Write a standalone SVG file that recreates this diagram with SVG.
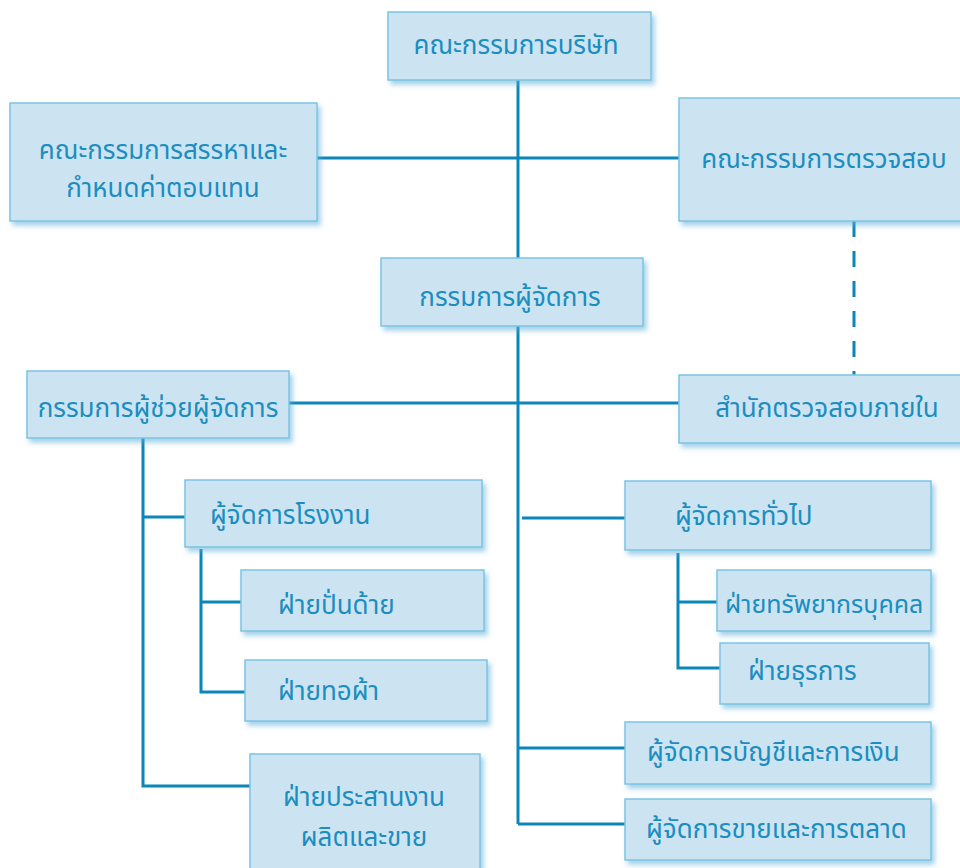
<svg xmlns="http://www.w3.org/2000/svg" width="960" height="868" viewBox="0 0 960 868">
<defs>
<filter id="sh" x="-10%" y="-10%" width="130%" height="140%">
<feDropShadow dx="3" dy="4" stdDeviation="2.5" flood-color="#5aaed6" flood-opacity="0.55"/>
</filter>
<style>
.box{fill:#cce4f2;stroke:#7cc3e3;stroke-width:1.5;filter:url(#sh)}
.t{font-family:"Noto Sans Thai","Noto Sans","DejaVu Sans",sans-serif;font-size:26px;fill:#1b8dbf}
.c{text-anchor:middle}
.ln{stroke:#0a86b8;stroke-width:3;fill:none}
</style>
</defs>
<rect width="960" height="868" fill="#ffffff"/>
<g id="connectors">
<line class="ln" x1="518" y1="80" x2="518" y2="258"/>
<line class="ln" x1="317" y1="158" x2="679" y2="158"/>
<line class="ln" x1="854" y1="221" x2="854" y2="375" stroke-dasharray="16,14"/>
<line class="ln" x1="518" y1="326" x2="518" y2="824"/>
<line class="ln" x1="289" y1="403" x2="679" y2="403"/>
<line class="ln" x1="522" y1="518" x2="625" y2="518"/>
<line class="ln" x1="518" y1="748" x2="625" y2="748"/>
<polyline class="ln" points="518,824 625,824"/>
<polyline class="ln" points="143,438 143,786 250,786"/>
<line class="ln" x1="143" y1="517" x2="185" y2="517"/>
<polyline class="ln" points="201,549 201,692 245,692"/>
<line class="ln" x1="201" y1="602" x2="241" y2="602"/>
<polyline class="ln" points="678,553 678,668 720,668"/>
<line class="ln" x1="678" y1="602" x2="717" y2="602"/>
</g>
<g id="board"><rect class="box" x="388" y="12" width="263" height="68"/><text class="t c" x="516" y="54">คณะกรรมการบริษัท</text></g>
<g id="nomination"><rect class="box" x="10" y="103" width="307" height="118"/><text class="t c" x="163" y="159">คณะกรรมการสรรหาและ</text><text class="t c" x="163" y="197">กำหนดค่าตอบแทน</text></g>
<g id="audit"><rect class="box" x="679" y="98" width="290" height="123"/><text class="t c" x="824" y="168">คณะกรรมการตรวจสอบ</text></g>
<g id="md"><rect class="box" x="381" y="258" width="262" height="68"/><text class="t c" x="510" y="306">กรรมการผู้จัดการ</text></g>
<g id="amd"><rect class="box" x="27" y="371" width="262" height="67"/><text class="t c" x="158" y="417">กรรมการผู้ช่วยผู้จัดการ</text></g>
<g id="internal-audit"><rect class="box" x="679" y="375" width="290" height="68"/><text class="t c" x="827" y="417">สำนักตรวจสอบภายใน</text></g>
<g id="factory"><rect class="box" x="185" y="480" width="297" height="67"/><text class="t" x="210" y="524">ผู้จัดการโรงงาน</text></g>
<g id="spinning"><rect class="box" x="241" y="570" width="243" height="61"/><text class="t" x="278" y="614">ฝ่ายปั่นด้าย</text></g>
<g id="weaving"><rect class="box" x="245" y="660" width="242" height="61"/><text class="t" x="278" y="700">ฝ่ายทอผ้า</text></g>
<g id="coordination"><rect class="box" x="250" y="754" width="230" height="130"/><text class="t c" x="364" y="806">ฝ่ายประสานงาน</text><text class="t c" x="364" y="846">ผลิตและขาย</text></g>
<g id="gm"><rect class="box" x="625" y="481" width="306" height="69"/><text class="t" x="675" y="525">ผู้จัดการทั่วไป</text></g>
<g id="hr"><rect class="box" x="717" y="570" width="214" height="61"/><text class="t" x="725" y="613" style="font-size:25px">ฝ่ายทรัพยากรบุคคล</text></g>
<g id="admin"><rect class="box" x="720" y="643" width="209" height="61"/><text class="t" x="748" y="680">ฝ่ายธุรการ</text></g>
<g id="finance"><rect class="box" x="625" y="722" width="306" height="62"/><text class="t" x="647" y="761">ผู้จัดการบัญชีและการเงิน</text></g>
<g id="sales"><rect class="box" x="625" y="799" width="306" height="61"/><text class="t" x="646" y="838">ผู้จัดการขายและการตลาด</text></g>
</svg>
